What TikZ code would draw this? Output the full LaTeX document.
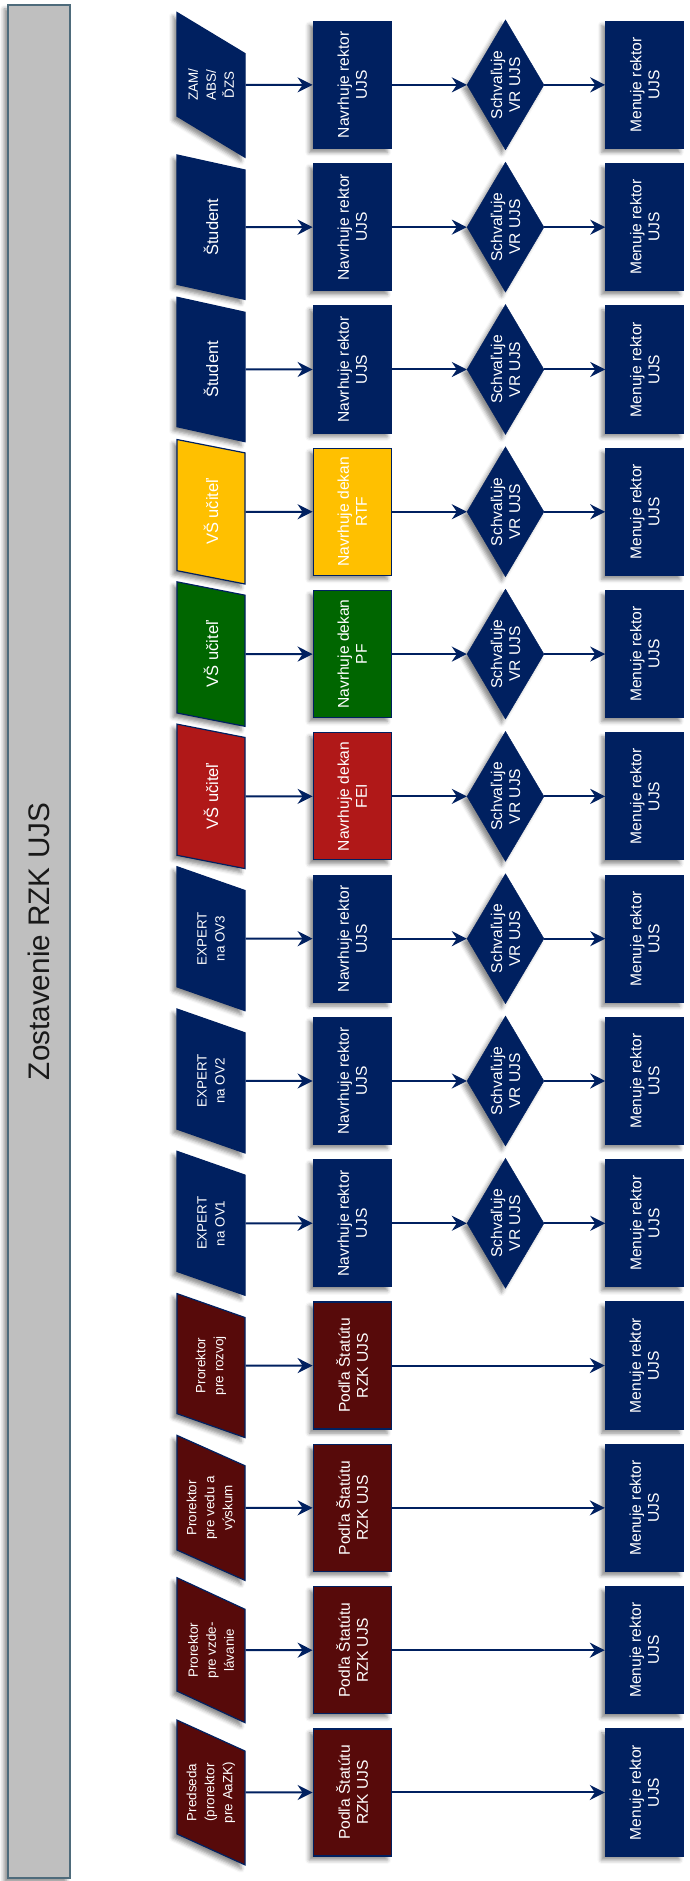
\documentclass[tikz,border=0pt]{standalone}
\usepackage{fontspec}
\setmainfont{Liberation Sans}
\usetikzlibrary{arrows.meta,shapes,positioning,shadows.blur}

\definecolor{tmodra}{HTML}{002060}
\definecolor{bordo}{HTML}{570A0A}
\definecolor{cervena}{HTML}{B01818}
\definecolor{zelena}{HTML}{006600}
\definecolor{zlta}{HTML}{FFC000}
\definecolor{siva}{HTML}{BFBFBF}
\definecolor{ramik}{HTML}{4E6B7B}

\tikzset{
  tien/.style={blur shadow={shadow xshift=-4pt, shadow yshift=-4pt, shadow blur radius=4pt, shadow opacity=45}},
  vstup/.style={trapezium, trapezium left angle=65, trapezium right angle=115, trapezium stretches=true,
    minimum width=145pt, minimum height=68pt, inner sep=1pt, draw=tmodra, line width=1.2pt, fill=tmodra,
    text=white, align=center, font=\fontsize{13.4}{18}\selectfont, tien},
  velky/.style={font=\fontsize{16.5}{19}\selectfont},
  krok/.style={rectangle, minimum width=127pt, minimum height=78pt, inner sep=1pt, draw=tmodra, line width=1.2pt,
    fill=tmodra, text=white, align=center, font=\fontsize{15.6}{18}\selectfont, tien},
  rozh/.style={diamond, minimum width=130pt, minimum height=77pt, inner sep=0pt, draw=tmodra, fill=tmodra, tien,
    label={[text=white, align=center, font=\fontsize{15.6}{18}\selectfont]center:Schvaľuje\\VR UJS}},
  sipka/.style={-{Stealth[length=15pt, width=15pt, inset=5pt]}, draw=tmodra, line width=2pt}
}

\begin{document}
\begin{tikzpicture}[x=1pt, y=1pt, rotate=90, transform shape, node distance=67pt]
  \useasboundingbox (0,0) rectangle (1881,-689);

  \node[draw=ramik, line width=1.5pt, fill=siva, minimum width=1873pt, minimum height=62pt,
    font=\fontsize{29.7}{34}\selectfont, text=black!90, tien] (tit) at (939.5,-39) {Zostavenie RZK UJS};

  % prorektori
  \node[vstup, fill=bordo] (v1) at (88.5,-211) {Predseda\\(prorektor\\pre AaZK)};
  \node[krok, fill=bordo] (k1) [below=of v1] {Podľa Štatútu\\RZK UJS};
  \node[krok] (m1) [below=213pt of k1] {Menuje rektor\\UJS};

  \node[vstup, fill=bordo] (v2) at (230.8,-211) {Prorektor\\pre vzde-\\lávanie};
  \node[krok, fill=bordo] (k2) [below=of v2] {Podľa Štatútu\\RZK UJS};
  \node[krok] (m2) [below=213pt of k2] {Menuje rektor\\UJS};

  \node[vstup, fill=bordo] (v3) at (373.1,-211) {Prorektor\\pre vedu a\\výskum};
  \node[krok, fill=bordo] (k3) [below=of v3] {Podľa Štatútu\\RZK UJS};
  \node[krok] (m3) [below=213pt of k3] {Menuje rektor\\UJS};

  \node[vstup, fill=bordo] (v4) at (515.4,-211) {Prorektor\\pre rozvoj};
  \node[krok, fill=bordo] (k4) [below=of v4] {Podľa Štatútu\\RZK UJS};
  \node[krok] (m4) [below=213pt of k4] {Menuje rektor\\UJS};

  % experti
  \node[vstup] (v5) at (657.7,-211) {EXPERT\\na OV1};
  \node[krok] (k5) [below=of v5] {Navrhuje rektor\\UJS};
  \node[rozh] (r5) [below=75pt of k5] {};
  \node[krok] (m5) [below=61pt of r5] {Menuje rektor\\UJS};

  \node[vstup] (v6) at (800,-211) {EXPERT\\na OV2};
  \node[krok] (k6) [below=of v6] {Navrhuje rektor\\UJS};
  \node[rozh] (r6) [below=75pt of k6] {};
  \node[krok] (m6) [below=61pt of r6] {Menuje rektor\\UJS};

  \node[vstup] (v7) at (942.3,-211) {EXPERT\\na OV3};
  \node[krok] (k7) [below=of v7] {Navrhuje rektor\\UJS};
  \node[rozh] (r7) [below=75pt of k7] {};
  \node[krok] (m7) [below=61pt of r7] {Menuje rektor\\UJS};

  % fakulty
  \node[vstup, velky, fill=cervena] (v8) at (1084.6,-211) {VŠ učiteľ};
  \node[krok, fill=cervena] (k8) [below=of v8] {Navrhuje dekan\\FEI};
  \node[rozh] (r8) [below=75pt of k8] {};
  \node[krok] (m8) [below=61pt of r8] {Menuje rektor\\UJS};

  \node[vstup, velky, fill=zelena] (v9) at (1226.9,-211) {VŠ učiteľ};
  \node[krok, fill=zelena] (k9) [below=of v9] {Navrhuje dekan\\PF};
  \node[rozh] (r9) [below=75pt of k9] {};
  \node[krok] (m9) [below=61pt of r9] {Menuje rektor\\UJS};

  \node[vstup, velky, fill=zlta] (v10) at (1369.2,-211) {VŠ učiteľ};
  \node[krok, fill=zlta] (k10) [below=of v10] {Navrhuje dekan\\RTF};
  \node[rozh] (r10) [below=75pt of k10] {};
  \node[krok] (m10) [below=61pt of r10] {Menuje rektor\\UJS};

  % studenti a ostatni
  \node[vstup, velky] (v11) at (1511.5,-211) {Študent};
  \node[krok] (k11) [below=of v11] {Navrhuje rektor\\UJS};
  \node[rozh] (r11) [below=75pt of k11] {};
  \node[krok] (m11) [below=61pt of r11] {Menuje rektor\\UJS};

  \node[vstup, velky] (v12) at (1653.8,-211) {Študent};
  \node[krok] (k12) [below=of v12] {Navrhuje rektor\\UJS};
  \node[rozh] (r12) [below=75pt of k12] {};
  \node[krok] (m12) [below=61pt of r12] {Menuje rektor\\UJS};

  \node[vstup] (v13) at (1796.1,-211) {ZAM/\\ABS/\\ĎZS};
  \node[krok] (k13) [below=of v13] {Navrhuje rektor\\UJS};
  \node[rozh] (r13) [below=75pt of k13] {};
  \node[krok] (m13) [below=61pt of r13] {Menuje rektor\\UJS};

  \draw[sipka] (v1) -- (k1);
  \draw[sipka] (k1) -- (m1);
  \draw[sipka] (v2) -- (k2);
  \draw[sipka] (k2) -- (m2);
  \draw[sipka] (v3) -- (k3);
  \draw[sipka] (k3) -- (m3);
  \draw[sipka] (v4) -- (k4);
  \draw[sipka] (k4) -- (m4);

  \draw[sipka] (v5) -- (k5);
  \draw[sipka] (k5) -- (r5);
  \draw[sipka] (r5) -- (m5);
  \draw[sipka] (v6) -- (k6);
  \draw[sipka] (k6) -- (r6);
  \draw[sipka] (r6) -- (m6);
  \draw[sipka] (v7) -- (k7);
  \draw[sipka] (k7) -- (r7);
  \draw[sipka] (r7) -- (m7);
  \draw[sipka] (v8) -- (k8);
  \draw[sipka] (k8) -- (r8);
  \draw[sipka] (r8) -- (m8);
  \draw[sipka] (v9) -- (k9);
  \draw[sipka] (k9) -- (r9);
  \draw[sipka] (r9) -- (m9);
  \draw[sipka] (v10) -- (k10);
  \draw[sipka] (k10) -- (r10);
  \draw[sipka] (r10) -- (m10);
  \draw[sipka] (v11) -- (k11);
  \draw[sipka] (k11) -- (r11);
  \draw[sipka] (r11) -- (m11);
  \draw[sipka] (v12) -- (k12);
  \draw[sipka] (k12) -- (r12);
  \draw[sipka] (r12) -- (m12);
  \draw[sipka] (v13) -- (k13);
  \draw[sipka] (k13) -- (r13);
  \draw[sipka] (r13) -- (m13);
\end{tikzpicture}
\end{document}
